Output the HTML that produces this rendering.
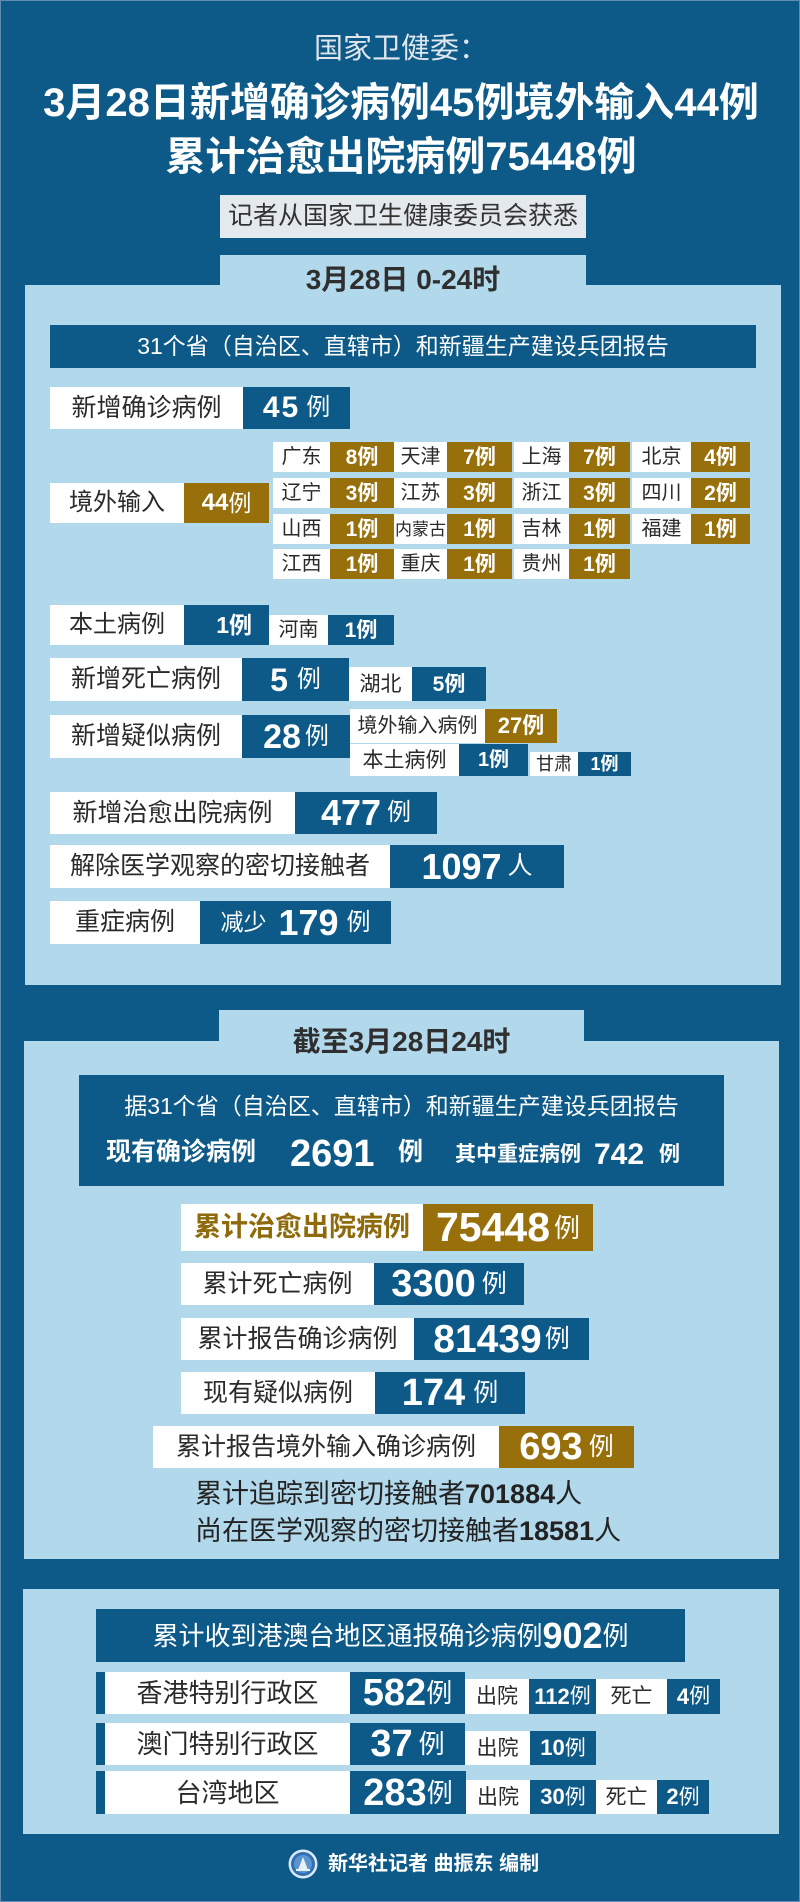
<!DOCTYPE html>
<html><head><meta charset="utf-8">
<style>
*{box-sizing:border-box;}
body{margin:0;width:800px;height:1902px;background:#0d5a89;position:relative;overflow:hidden;font-family:"Liberation Sans","Noto Sans CJK SC",sans-serif;border:1px solid #5f8cb0;}
.a{position:absolute;display:flex;align-items:center;justify-content:center;white-space:nowrap;line-height:1;}
.w{background:#fff;color:#2a2a2a;}
.bl{background:#0d5a89;color:#fff;}
.g{background:#98700b;color:#fff;}
.lp{background:#b2d8ec;}
.n{font-weight:bold;}
.t{position:absolute;white-space:nowrap;line-height:1;}
</style></head><body>

<!-- Header -->
<div class="a" style="left:0;top:32;top:32px;width:800px;height:32px;font-size:29px;color:#dfe6ec;">国家卫健委：</div>
<div class="a n" style="left:0;top:80px;width:800px;height:44px;font-size:40px;color:#fff;">3月28日新增确诊病例45例境外输入44例</div>
<div class="a n" style="left:0;top:134px;width:800px;height:44px;font-size:40px;color:#fff;">累计治愈出院病例75448例</div>
<div class="a" style="left:219px;top:194px;width:366px;height:43px;background:#e4e9ed;color:#333;font-size:25px;">记者从国家卫生健康委员会获悉</div>

<!-- Panel 1 -->
<div class="a lp" style="left:24px;top:284px;width:756px;height:700px;"></div>
<div class="a lp n" style="left:219px;top:254px;width:366px;height:50px;font-size:28px;color:#2f2f2f;padding-top:0px;">3月28日 0-24时</div>
<div class="a bl" style="left:49px;top:324px;width:706px;height:43px;font-size:23px;">31个省（自治区、直辖市）和新疆生产建设兵团报告</div>

<!-- Row 新增确诊 -->
<div class="a w" style="left:49px;top:386px;width:193px;height:42px;font-size:25px;">新增确诊病例</div>
<div class="a bl" style="left:242px;top:386px;width:107px;height:42px;"><span class="n" style="font-size:30px;letter-spacing:2px;">45</span><span style="font-size:24px;margin-left:6px;">例</span></div>

<!-- 境外输入 -->
<div class="a w" style="left:49px;top:482px;width:134px;height:40px;font-size:24px;">境外输入</div>
<div class="a g" style="left:183px;top:482px;width:85px;height:40px;"><span class="n" style="font-size:24px;">44</span><span style="font-size:23px;">例</span></div>

<!-- Province grid -->
<div class="a w" style="left:272px;top:441px;width:57px;height:30px;font-size:20px;">广东</div>
<div class="a g n" style="left:329px;top:441px;width:64px;height:30px;font-size:21px;">8例</div>
<div class="a w" style="left:393px;top:441px;width:53px;height:30px;font-size:20px;">天津</div>
<div class="a g n" style="left:446px;top:441px;width:65px;height:30px;font-size:21px;">7例</div>
<div class="a w" style="left:513px;top:441px;width:55px;height:30px;font-size:20px;">上海</div>
<div class="a g n" style="left:568px;top:441px;width:61px;height:30px;font-size:21px;">7例</div>
<div class="a w" style="left:631px;top:441px;width:59px;height:30px;font-size:20px;">北京</div>
<div class="a g n" style="left:690px;top:441px;width:59px;height:30px;font-size:21px;">4例</div>

<div class="a w" style="left:272px;top:477px;width:57px;height:30px;font-size:20px;">辽宁</div>
<div class="a g n" style="left:329px;top:477px;width:64px;height:30px;font-size:21px;">3例</div>
<div class="a w" style="left:393px;top:477px;width:53px;height:30px;font-size:20px;">江苏</div>
<div class="a g n" style="left:446px;top:477px;width:65px;height:30px;font-size:21px;">3例</div>
<div class="a w" style="left:513px;top:477px;width:55px;height:30px;font-size:20px;">浙江</div>
<div class="a g n" style="left:568px;top:477px;width:61px;height:30px;font-size:21px;">3例</div>
<div class="a w" style="left:631px;top:477px;width:59px;height:30px;font-size:20px;">四川</div>
<div class="a g n" style="left:690px;top:477px;width:59px;height:30px;font-size:21px;">2例</div>

<div class="a w" style="left:272px;top:513px;width:57px;height:30px;font-size:20px;">山西</div>
<div class="a g n" style="left:329px;top:513px;width:64px;height:30px;font-size:21px;">1例</div>
<div class="a w" style="left:393px;top:513px;width:53px;height:30px;font-size:17px;">内蒙古</div>
<div class="a g n" style="left:446px;top:513px;width:65px;height:30px;font-size:21px;">1例</div>
<div class="a w" style="left:513px;top:513px;width:55px;height:30px;font-size:20px;">吉林</div>
<div class="a g n" style="left:568px;top:513px;width:61px;height:30px;font-size:21px;">1例</div>
<div class="a w" style="left:631px;top:513px;width:59px;height:30px;font-size:20px;">福建</div>
<div class="a g n" style="left:690px;top:513px;width:59px;height:30px;font-size:21px;">1例</div>

<div class="a w" style="left:272px;top:548px;width:57px;height:30px;font-size:20px;">江西</div>
<div class="a g n" style="left:329px;top:548px;width:64px;height:30px;font-size:21px;">1例</div>
<div class="a w" style="left:393px;top:548px;width:53px;height:30px;font-size:20px;">重庆</div>
<div class="a g n" style="left:446px;top:548px;width:65px;height:30px;font-size:21px;">1例</div>
<div class="a w" style="left:513px;top:548px;width:55px;height:30px;font-size:20px;">贵州</div>
<div class="a g n" style="left:568px;top:548px;width:61px;height:30px;font-size:21px;">1例</div>

<!-- 本土病例 -->
<div class="a w" style="left:49px;top:604px;width:134px;height:40px;font-size:24px;">本土病例</div>
<div class="a bl n" style="left:183px;top:604px;width:85px;height:40px;font-size:23px;justify-content:flex-end;padding-right:17px;">1例</div>
<div class="a w" style="left:268px;top:614px;width:59px;height:30px;font-size:20px;">河南</div>
<div class="a bl n" style="left:327px;top:614px;width:66px;height:30px;font-size:21px;">1例</div>

<!-- 新增死亡 -->
<div class="a w" style="left:49px;top:657px;width:192px;height:43px;font-size:25px;">新增死亡病例</div>
<div class="a bl" style="left:241px;top:657px;width:107px;height:43px;"><span class="n" style="font-size:32px;">5</span><span style="font-size:24px;margin-left:9px;">例</span></div>
<div class="a w" style="left:348px;top:666px;width:63px;height:34px;font-size:21px;">湖北</div>
<div class="a bl n" style="left:411px;top:666px;width:74px;height:34px;font-size:21px;">5例</div>

<!-- 新增疑似 -->
<div class="a w" style="left:49px;top:714px;width:192px;height:43px;font-size:25px;">新增疑似病例</div>
<div class="a bl" style="left:241px;top:714px;width:108px;height:43px;"><span class="n" style="font-size:34px;">28</span><span style="font-size:24px;margin-left:4px;">例</span></div>
<div class="a w" style="left:349px;top:708px;width:135px;height:34px;font-size:20px;">境外输入病例</div>
<div class="a g n" style="left:484px;top:708px;width:72px;height:34px;font-size:22px;">27例</div>
<div class="a w" style="left:349px;top:743px;width:109px;height:32px;font-size:21px;">本土病例</div>
<div class="a bl n" style="left:458px;top:743px;width:69px;height:32px;font-size:20px;">1例</div>
<div class="a w" style="left:529px;top:751px;width:48px;height:24px;font-size:18px;">甘肃</div>
<div class="a bl n" style="left:577px;top:751px;width:53px;height:24px;font-size:18px;">1例</div>

<!-- 新增治愈 -->
<div class="a w" style="left:49px;top:791px;width:245px;height:42px;font-size:25px;">新增治愈出院病例</div>
<div class="a bl" style="left:294px;top:791px;width:142px;height:42px;"><span class="n" style="font-size:36px;">477</span><span style="font-size:24px;margin-left:6px;">例</span></div>

<div class="a w" style="left:49px;top:844px;width:340px;height:43px;font-size:25px;">解除医学观察的密切接触者</div>
<div class="a bl" style="left:389px;top:844px;width:174px;height:43px;"><span class="n" style="font-size:36px;">1097</span><span style="font-size:25px;margin-left:6px;">人</span></div>

<div class="a w" style="left:49px;top:900px;width:150px;height:43px;font-size:25px;">重症病例</div>
<div class="a bl" style="left:199px;top:900px;width:191px;height:43px;"><span style="font-size:23px;">减少</span><span class="n" style="font-size:36px;margin-left:12px;">179</span><span style="font-size:24px;margin-left:8px;">例</span></div>

<!-- Panel 2 -->
<div class="a lp" style="left:23px;top:1040px;width:755px;height:518px;"></div>
<div class="a lp n" style="left:218px;top:1009px;width:365px;height:66px;font-size:28px;color:#2f2f2f;align-items:flex-start;padding-top:18px;">截至3月28日24时</div>
<div class="a bl" style="left:78px;top:1074px;width:645px;height:111px;"></div>
<div class="a" style="left:78px;top:1090px;width:645px;height:30px;font-size:23px;color:#fff;">据31个省（自治区、直辖市）和新疆生产建设兵团报告</div>
<div class="t n" style="left:105px;top:1139px;font-size:25px;color:#fff;">现有确诊病例</div>
<div class="t n" style="left:289px;top:1134px;font-size:38px;color:#fff;">2691</div>
<div class="t n" style="left:397px;top:1139px;font-size:25px;color:#fff;">例</div>
<div class="t n" style="left:454px;top:1143px;font-size:21px;color:#fff;">其中重症病例</div>
<div class="t n" style="left:593px;top:1139px;font-size:30px;color:#fff;">742</div>
<div class="t n" style="left:658px;top:1143px;font-size:21px;color:#fff;">例</div>

<div class="a w n" style="left:180px;top:1203px;width:242px;height:47px;font-size:27px;color:#8e6a0a;">累计治愈出院病例</div>
<div class="a g" style="left:422px;top:1203px;width:170px;height:47px;"><span class="n" style="font-size:41px;">75448</span><span style="font-size:26px;margin-left:4px;">例</span></div>

<div class="a w" style="left:180px;top:1262px;width:193px;height:42px;font-size:25px;">累计死亡病例</div>
<div class="a bl" style="left:373px;top:1262px;width:150px;height:42px;"><span class="n" style="font-size:38px;">3300</span><span style="font-size:25px;margin-left:6px;">例</span></div>

<div class="a w" style="left:180px;top:1317px;width:233px;height:42px;font-size:25px;">累计报告确诊病例</div>
<div class="a bl" style="left:413px;top:1317px;width:175px;height:42px;"><span class="n" style="font-size:39px;">81439</span><span style="font-size:25px;margin-left:3px;">例</span></div>

<div class="a w" style="left:180px;top:1371px;width:194px;height:42px;font-size:25px;">现有疑似病例</div>
<div class="a bl" style="left:374px;top:1371px;width:150px;height:42px;"><span class="n" style="font-size:38px;">174</span><span style="font-size:25px;margin-left:8px;">例</span></div>

<div class="a w" style="left:152px;top:1425px;width:346px;height:42px;font-size:25px;">累计报告境外输入确诊病例</div>
<div class="a g" style="left:498px;top:1425px;width:135px;height:42px;"><span class="n" style="font-size:38px;">693</span><span style="font-size:25px;margin-left:6px;">例</span></div>

<div class="t" style="left:194px;top:1480px;font-size:27px;color:#222;">累计追踪到密切接触者<b>701884</b>人</div>
<div class="t" style="left:194px;top:1517px;font-size:27px;color:#222;">尚在医学观察的密切接触者<b>18581</b>人</div>

<!-- Panel 3 -->
<div class="a lp" style="left:22px;top:1588px;width:756px;height:245px;"></div>
<div class="a bl" style="left:95px;top:1608px;width:589px;height:53px;font-size:26px;"><span>累计收到港澳台地区通报确诊病例</span><span class="n" style="font-size:36px;">902</span><span>例</span></div>

<!-- HK -->
<div class="a bl" style="left:95px;top:1671px;width:9px;height:42px;"></div>
<div class="a w" style="left:104px;top:1671px;width:245px;height:42px;font-size:26px;">香港特别行政区</div>
<div class="a bl" style="left:349px;top:1671px;width:115px;height:42px;"><span class="n" style="font-size:38px;">582</span><span style="font-size:26px;">例</span></div>
<div class="a w" style="left:464px;top:1678px;width:64px;height:35px;font-size:21px;">出院</div>
<div class="a bl" style="left:528px;top:1678px;width:67px;height:35px;"><span class="n" style="font-size:22px;">112</span><span style="font-size:21px;">例</span></div>
<div class="a w" style="left:595px;top:1678px;width:71px;height:35px;font-size:21px;">死亡</div>
<div class="a bl" style="left:666px;top:1678px;width:53px;height:35px;"><span class="n" style="font-size:22px;">4</span><span style="font-size:21px;">例</span></div>

<!-- Macau -->
<div class="a bl" style="left:95px;top:1722px;width:9px;height:42px;"></div>
<div class="a w" style="left:104px;top:1722px;width:245px;height:42px;font-size:26px;">澳门特别行政区</div>
<div class="a bl" style="left:349px;top:1722px;width:115px;height:42px;"><span class="n" style="font-size:38px;">37</span><span style="font-size:26px;margin-left:6px;">例</span></div>
<div class="a w" style="left:464px;top:1730px;width:65px;height:34px;font-size:21px;">出院</div>
<div class="a bl" style="left:529px;top:1730px;width:66px;height:34px;"><span class="n" style="font-size:22px;">10</span><span style="font-size:21px;">例</span></div>

<!-- Taiwan -->
<div class="a bl" style="left:95px;top:1770px;width:9px;height:43px;"></div>
<div class="a w" style="left:104px;top:1770px;width:245px;height:43px;font-size:26px;">台湾地区</div>
<div class="a bl" style="left:349px;top:1770px;width:116px;height:43px;"><span class="n" style="font-size:38px;">283</span><span style="font-size:26px;">例</span></div>
<div class="a w" style="left:465px;top:1779px;width:64px;height:34px;font-size:21px;">出院</div>
<div class="a bl" style="left:529px;top:1779px;width:66px;height:34px;"><span class="n" style="font-size:22px;">30</span><span style="font-size:21px;">例</span></div>
<div class="a w" style="left:595px;top:1779px;width:61px;height:34px;font-size:21px;">死亡</div>
<div class="a bl" style="left:656px;top:1779px;width:52px;height:34px;"><span class="n" style="font-size:22px;">2</span><span style="font-size:21px;">例</span></div>

<!-- Footer -->
<svg style="position:absolute;left:287px;top:1848px;" width="30" height="30" viewBox="0 0 30 30">
<circle cx="15" cy="15" r="14.5" fill="#dfeaf4"/>
<circle cx="15" cy="15" r="12" fill="#2f6fb3"/>
<circle cx="15" cy="15" r="9" fill="#5b95cf"/>
<path d="M10 21 L15 8 L20 21 Z" fill="#e8f0f8"/>
<rect x="8" y="20" width="14" height="2" fill="#e8f0f8"/>
</svg>
<div class="t n" style="left:327px;top:1853px;font-size:20px;color:#fff;">新华社记者 曲振东 编制</div>

</body></html>
